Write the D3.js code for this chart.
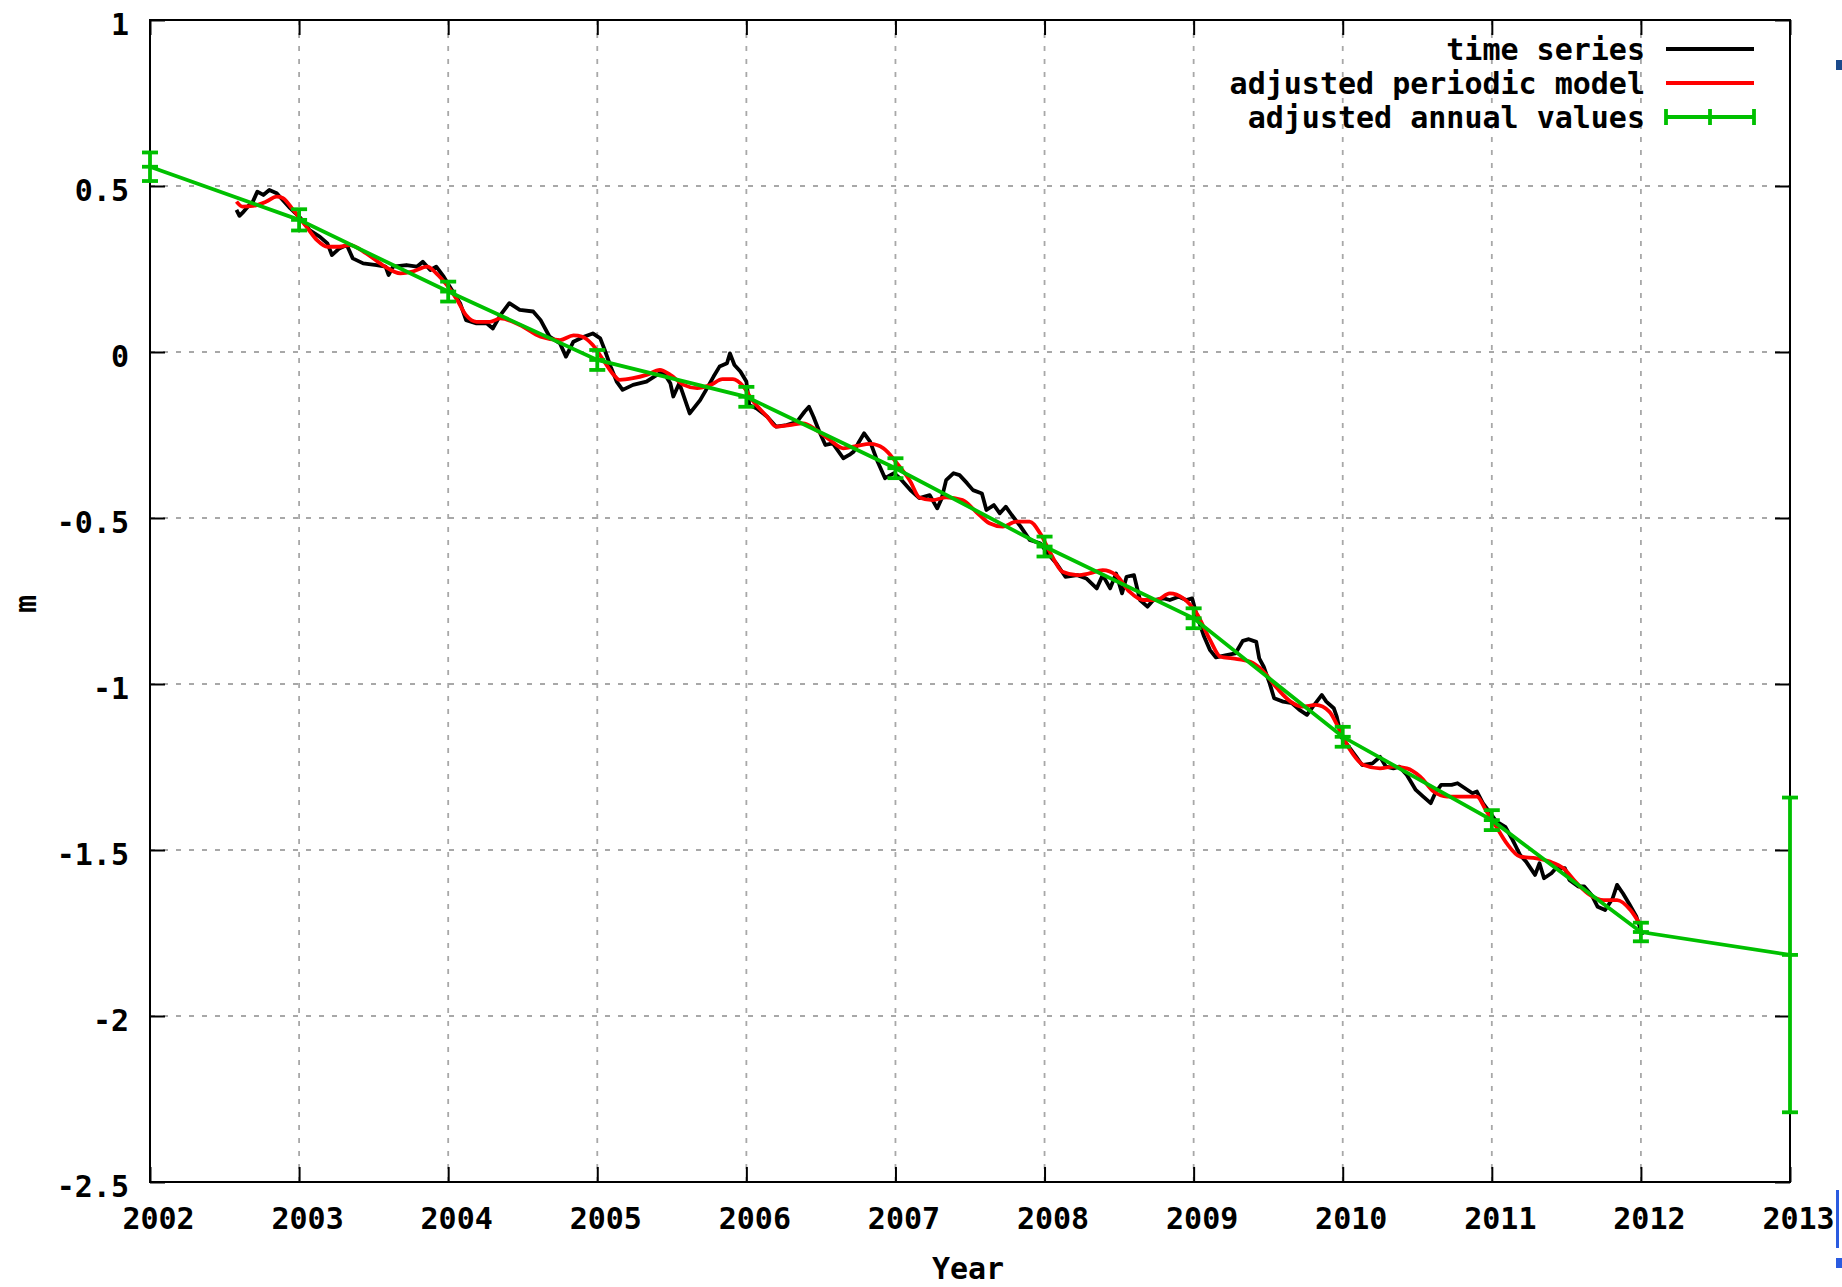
<!DOCTYPE html>
<html>
<head>
<meta charset="utf-8">
<script src="https://cdn.jsdelivr.net/npm/d3@7"></script>
<style>
  html, body { margin: 0; padding: 0; background: #ffffff; }
  svg { display: block; }
  text { font-family: "DejaVu Sans Mono", "Liberation Mono", monospace; font-weight: bold; fill: #000; }
</style>
</head>
<body>
<script>
// ---------------- DATA ----------------
const xTickValues = [2002, 2003, 2004, 2005, 2006, 2007, 2008, 2009, 2010, 2011, 2012, 2013];
const yTickValues = [1, 0.5, 0, -0.5, -1, -1.5, -2, -2.5];
const seriesNames = ["time series", "adjusted periodic model", "adjusted annual values"];

const annualYears  = [2002, 2003, 2004, 2005, 2006, 2007, 2008, 2009, 2010, 2011, 2012, 2013];
const annualValues = [0.558, 0.398, 0.182, -0.024, -0.135, -0.35, -0.586, -0.802, -1.159, -1.41, -1.747, -1.816];
const annualErrors = [0.043, 0.032, 0.03, 0.03, 0.03, 0.03, 0.03, 0.03, 0.03, 0.03, 0.028, 0.474];

const periodicModel = [
[2002.58,0.453],[2002.62,0.438],[2002.69,0.44],[2002.78,0.453],[2002.85,0.468],[2002.89,0.464],[2002.96,0.428],
[2003.05,0.377],[2003.12,0.337],[2003.19,0.317],[2003.27,0.317],[2003.34,0.322],[2003.45,0.297],[2003.56,0.262],
[2003.68,0.237],[2003.76,0.242],[2003.86,0.257],[2003.92,0.237],[2003.99,0.202],[2004.06,0.157],[2004.12,0.111],
[2004.19,0.091],[2004.28,0.091],[2004.35,0.101],[2004.48,0.081],[2004.62,0.046],[2004.75,0.036],[2004.84,0.05],
[2004.90,0.046],[2004.97,0.021],[2005.04,-0.024],[2005.11,-0.069],[2005.15,-0.084],[2005.24,-0.079],[2005.33,-0.069],
[2005.42,-0.054],[2005.49,-0.069],[2005.58,-0.099],[2005.67,-0.109],[2005.76,-0.099],[2005.84,-0.082],[2005.91,-0.082],
[2005.98,-0.104],[2006.04,-0.145],[2006.14,-0.195],[2006.20,-0.225],[2006.29,-0.220],[2006.38,-0.215],[2006.47,-0.235],
[2006.56,-0.265],[2006.65,-0.29],[2006.74,-0.283],[2006.83,-0.277],[2006.92,-0.29],[2007.01,-0.335],[2007.10,-0.39],
[2007.16,-0.438],[2007.25,-0.446],[2007.34,-0.438],[2007.45,-0.446],[2007.54,-0.481],[2007.63,-0.516],[2007.72,-0.526],
[2007.81,-0.511],[2007.90,-0.511],[2007.97,-0.546],[2008.04,-0.606],[2008.12,-0.662],[2008.22,-0.672],[2008.30,-0.667],
[2008.39,-0.657],[2008.48,-0.672],[2008.57,-0.722],[2008.66,-0.747],[2008.75,-0.747],[2008.84,-0.727],[2008.93,-0.742],
[2009.02,-0.787],[2009.11,-0.867],[2009.18,-0.918],[2009.26,-0.923],[2009.38,-0.933],[2009.46,-0.958],[2009.56,-1.013],
[2009.65,-1.053],[2009.73,-1.068],[2009.82,-1.063],[2009.91,-1.083],[2009.98,-1.139],[2010.05,-1.199],[2010.14,-1.244],
[2010.25,-1.254],[2010.34,-1.249],[2010.43,-1.254],[2010.52,-1.279],[2010.61,-1.324],[2010.70,-1.339],[2010.81,-1.339],
[2010.90,-1.339],[2010.96,-1.380],[2011.03,-1.43],[2011.10,-1.48],[2011.19,-1.52],[2011.30,-1.525],[2011.39,-1.535],
[2011.48,-1.555],[2011.57,-1.60],[2011.66,-1.636],[2011.75,-1.651],[2011.84,-1.651],[2011.93,-1.681],[2011.99,-1.721]
];

const timeSeries = [
[2002.58,0.428],[2002.60,0.41],[2002.62,0.419],[2002.66,0.44],[2002.69,0.453],[2002.72,0.483],[2002.76,0.473],
[2002.80,0.488],[2002.85,0.478],[2002.89,0.458],[2002.94,0.433],[2003.01,0.403],[2003.07,0.367],[2003.14,0.347],
[2003.19,0.327],[2003.22,0.292],[2003.27,0.312],[2003.32,0.322],[2003.36,0.282],[2003.43,0.267],[2003.52,0.262],
[2003.58,0.257],[2003.60,0.232],[2003.63,0.257],[2003.72,0.262],[2003.79,0.257],[2003.83,0.272],[2003.88,0.247],
[2003.92,0.257],[2003.97,0.227],[2004.01,0.197],[2004.08,0.147],[2004.12,0.096],[2004.19,0.086],[2004.26,0.086],
[2004.30,0.071],[2004.35,0.111],[2004.41,0.147],[2004.48,0.127],[2004.57,0.122],[2004.62,0.096],[2004.68,0.046],
[2004.75,0.026],[2004.79,-0.014],[2004.84,0.031],[2004.91,0.046],[2004.97,0.056],[2005.02,0.041],[2005.05,0.006],
[2005.09,-0.044],[2005.13,-0.089],[2005.17,-0.114],[2005.24,-0.099],[2005.33,-0.089],[2005.40,-0.069],[2005.44,-0.059],
[2005.49,-0.094],[2005.51,-0.134],[2005.55,-0.094],[2005.62,-0.185],[2005.69,-0.145],[2005.73,-0.114],[2005.78,-0.074],
[2005.82,-0.044],[2005.87,-0.034],[2005.89,-0.004],[2005.92,-0.039],[2005.96,-0.059],[2006.00,-0.089],[2006.02,-0.160],
[2006.07,-0.170],[2006.14,-0.195],[2006.20,-0.225],[2006.27,-0.220],[2006.34,-0.210],[2006.39,-0.180],[2006.42,-0.165],
[2006.45,-0.195],[2006.49,-0.240],[2006.53,-0.280],[2006.58,-0.275],[2006.65,-0.320],[2006.69,-0.310],[2006.72,-0.300],
[2006.75,-0.275],[2006.79,-0.245],[2006.83,-0.270],[2006.88,-0.330],[2006.93,-0.380],[2006.99,-0.365],[2007.03,-0.380],
[2007.10,-0.416],[2007.16,-0.440],[2007.23,-0.431],[2007.28,-0.471],[2007.31,-0.441],[2007.34,-0.386],[2007.39,-0.365],
[2007.43,-0.371],[2007.48,-0.395],[2007.52,-0.416],[2007.58,-0.426],[2007.61,-0.476],[2007.66,-0.461],[2007.70,-0.486],
[2007.74,-0.466],[2007.78,-0.491],[2007.84,-0.526],[2007.90,-0.566],[2007.97,-0.576],[2008.02,-0.606],[2008.08,-0.637],
[2008.14,-0.677],[2008.22,-0.672],[2008.28,-0.682],[2008.35,-0.712],[2008.39,-0.672],[2008.44,-0.712],[2008.48,-0.667],
[2008.52,-0.727],[2008.55,-0.677],[2008.60,-0.672],[2008.64,-0.747],[2008.69,-0.767],[2008.73,-0.747],[2008.80,-0.742],
[2008.84,-0.747],[2008.90,-0.737],[2008.95,-0.747],[2008.99,-0.742],[2009.02,-0.792],[2009.07,-0.857],[2009.11,-0.898],
[2009.15,-0.920],[2009.22,-0.913],[2009.28,-0.908],[2009.33,-0.870],[2009.37,-0.865],[2009.42,-0.873],[2009.44,-0.923],
[2009.47,-0.948],[2009.51,-0.998],[2009.54,-1.043],[2009.60,-1.053],[2009.66,-1.058],[2009.71,-1.078],[2009.76,-1.093],
[2009.80,-1.068],[2009.86,-1.033],[2009.89,-1.053],[2009.94,-1.073],[2009.96,-1.098],[2009.99,-1.159],[2010.04,-1.189],
[2010.09,-1.219],[2010.13,-1.244],[2010.20,-1.239],[2010.25,-1.219],[2010.29,-1.249],[2010.34,-1.254],[2010.38,-1.249],
[2010.43,-1.274],[2010.49,-1.319],[2010.54,-1.339],[2010.59,-1.359],[2010.62,-1.329],[2010.66,-1.304],[2010.73,-1.304],
[2010.77,-1.299],[2010.82,-1.314],[2010.87,-1.329],[2010.90,-1.324],[2010.94,-1.359],[2010.99,-1.389],[2011.03,-1.414],
[2011.09,-1.43],[2011.14,-1.47],[2011.19,-1.515],[2011.23,-1.535],[2011.29,-1.575],[2011.32,-1.540],[2011.35,-1.585],
[2011.40,-1.570],[2011.43,-1.555],[2011.49,-1.555],[2011.52,-1.590],[2011.58,-1.610],[2011.62,-1.610],[2011.67,-1.636],
[2011.71,-1.671],[2011.76,-1.681],[2011.81,-1.646],[2011.84,-1.605],[2011.88,-1.631],[2011.92,-1.661],[2011.97,-1.701],
[2012.01,-1.756]
];

// ---------------- LAYOUT ----------------
const W = 1842, H = 1287;
const M = { left: 150, right: 1790, top: 20, bottom: 1182 };
const colors = { ts: "#000000", model: "#ff0000", annual: "#00c000", grid: "#a8a8a8" };
const FS = "30px";

const svg = d3.select("body").append("svg").attr("width", W).attr("height", H);

const x = d3.scaleLinear().domain([2002, 2013]).range([M.left, M.right]);
const y = d3.scaleLinear().domain([-2.5, 1]).range([M.bottom, M.top]);

// grid
const grid = svg.append("g").attr("stroke", colors.grid).attr("stroke-width", 1.8).attr("stroke-dasharray", "5,8");
grid.selectAll("line.gx").data(xTickValues.slice(1, -1)).join("line")
  .attr("x1", d => x(d)).attr("x2", d => x(d)).attr("y1", M.top).attr("y2", M.bottom);
grid.selectAll("line.gy").data(yTickValues.slice(1, -1)).join("line")
  .attr("y1", d => y(d)).attr("y2", d => y(d)).attr("x1", M.left).attr("x2", M.right);

// axes
const fmt = d => String(d);
const tickLen = 15;
const axB = svg.append("g").attr("transform", `translate(0,${M.bottom})`)
  .call(d3.axisBottom(x).tickValues(xTickValues).tickFormat(fmt).tickSizeInner(-tickLen).tickSizeOuter(0));
const axT = svg.append("g").attr("transform", `translate(0,${M.top})`)
  .call(d3.axisTop(x).tickValues(xTickValues).tickFormat("").tickSizeInner(-tickLen).tickSizeOuter(0));
const axL = svg.append("g").attr("transform", `translate(${M.left},0)`)
  .call(d3.axisLeft(y).tickValues(yTickValues).tickFormat(fmt).tickSizeInner(-tickLen).tickSizeOuter(0));
const axR = svg.append("g").attr("transform", `translate(${M.right},0)`)
  .call(d3.axisRight(y).tickValues(yTickValues).tickFormat("").tickSizeInner(-tickLen).tickSizeOuter(0));

[axB, axT, axL, axR].forEach(a => {
  a.select(".domain").remove();
  a.selectAll(".tick line").attr("stroke", "#000").attr("stroke-width", 2);
  a.attr("font-size", null).attr("font-family", null);
});
axB.selectAll(".tick text").attr("y", 47).attr("dy", null).attr("x", 8).style("font-size", FS);
axL.selectAll(".tick text").attr("x", -21).attr("dy", null).attr("y", 14).style("font-size", FS);

// frame
svg.append("rect").attr("x", M.left).attr("y", M.top)
  .attr("width", M.right - M.left).attr("height", M.bottom - M.top)
  .attr("fill", "none").attr("stroke", "#000").attr("stroke-width", 2);

// axis titles
svg.append("text").attr("x", (M.left + M.right) / 2 - 2).attr("y", 1279)
  .attr("text-anchor", "middle").style("font-size", FS).text("Year");
svg.append("text").attr("transform", "translate(36,604) rotate(-90)")
  .attr("text-anchor", "middle").style("font-size", FS).text("m");

// series
const SW = 3.8;
const line = d3.line().x(d => x(d[0])).y(d => y(d[1]));
svg.append("path").datum(timeSeries).attr("d", line)
  .attr("fill", "none").attr("stroke", colors.ts).attr("stroke-width", SW).attr("stroke-linejoin", "round");
svg.append("path").datum(periodicModel).attr("d", d3.line().x(d => x(d[0])).y(d => y(d[1])).curve(d3.curveMonotoneX))
  .attr("fill", "none").attr("stroke", colors.model).attr("stroke-width", SW).attr("stroke-linejoin", "round");

const annual = annualYears.map((yr, i) => ({ yr, v: annualValues[i], e: annualErrors[i] }));
svg.append("path").datum(annual).attr("d", d3.line().x(d => x(d.yr)).y(d => y(d.v)))
  .attr("fill", "none").attr("stroke", colors.annual).attr("stroke-width", SW);
const eb = svg.append("g").attr("stroke", colors.annual).attr("stroke-width", SW);
const cap = 8;
annual.forEach(d => {
  eb.append("line").attr("x1", x(d.yr)).attr("x2", x(d.yr)).attr("y1", y(d.v + d.e)).attr("y2", y(d.v - d.e));
  eb.append("line").attr("x1", x(d.yr) - cap).attr("x2", x(d.yr) + cap).attr("y1", y(d.v + d.e)).attr("y2", y(d.v + d.e));
  eb.append("line").attr("x1", x(d.yr) - cap).attr("x2", x(d.yr) + cap).attr("y1", y(d.v - d.e)).attr("y2", y(d.v - d.e));
  eb.append("line").attr("x1", x(d.yr) - cap).attr("x2", x(d.yr) + cap).attr("y1", y(d.v)).attr("y2", y(d.v));
});

// legend
const legRows = [49, 83, 117];
const legColors = [colors.ts, colors.model, colors.annual];
const lx1 = 1666, lx2 = 1754, ltx = 1645;
seriesNames.forEach((name, i) => {
  svg.append("text").attr("x", ltx).attr("y", legRows[i] + 11).attr("text-anchor", "end")
    .style("font-size", FS).text(name);
  svg.append("line").attr("x1", lx1).attr("x2", lx2).attr("y1", legRows[i]).attr("y2", legRows[i])
    .attr("stroke", legColors[i]).attr("stroke-width", SW);
  if (i === 2) {
    [lx1, (lx1 + lx2) / 2, lx2].forEach(cx => {
      svg.append("line").attr("x1", cx).attr("x2", cx).attr("y1", legRows[i] - 8).attr("y2", legRows[i] + 8)
        .attr("stroke", legColors[i]).attr("stroke-width", SW);
    });
  }
});

// clipped fragments at the right edge of the source image
svg.append("rect").attr("x", 1836).attr("y", 60).attr("width", 6).attr("height", 10).attr("fill", "#1b4a8c");
svg.append("rect").attr("x", 1836).attr("y", 1190).attr("width", 3).attr("height", 58).attr("fill", "#2a5be0");
svg.append("rect").attr("x", 1836).attr("y", 1258).attr("width", 6).attr("height", 10).attr("fill", "#2a5be0");
</script>
</body>
</html>
